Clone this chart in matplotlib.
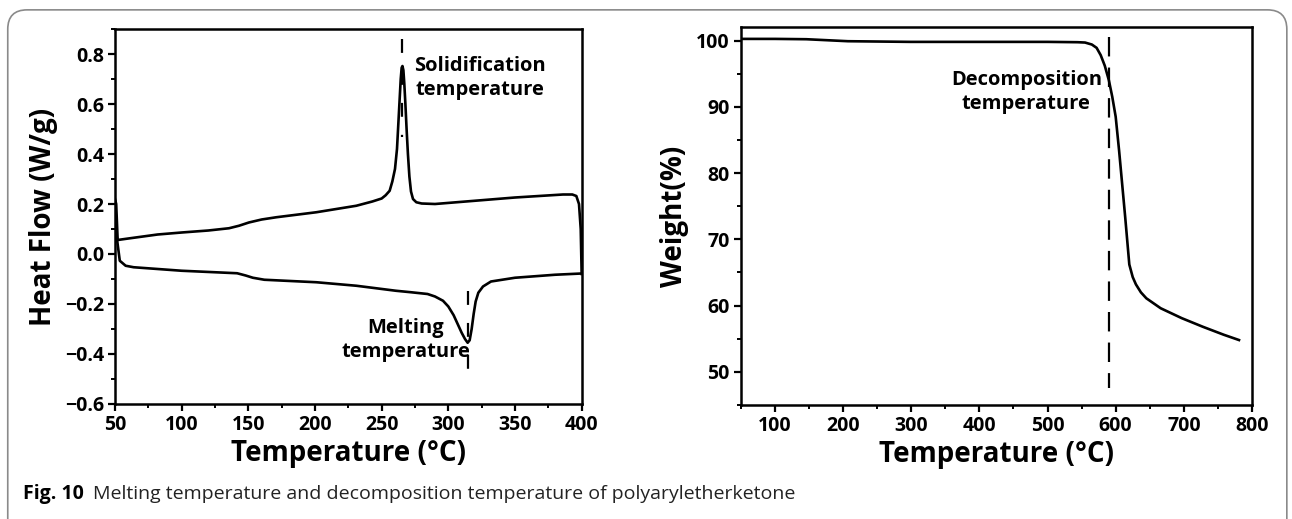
import matplotlib
matplotlib.use("Agg")
import matplotlib.pyplot as plt
from matplotlib.patches import FancyBboxPatch
from matplotlib.ticker import MultipleLocator

plt.rcParams['font.family'] = ['Open Sans', 'DejaVu Sans']
plt.rcParams['lines.scale_dashes'] = False

# DSC curves (temperature in °C, heat flow in W/g)
dsc_upper_t = [50, 50.9, 52, 60, 82, 100, 120, 135.5, 143, 150.4, 160, 171, 201, 231, 243, 250, 253,
               256, 258, 260, 261.5, 262.5, 263.5, 264.3, 265, 265.6, 266.3, 267, 267.8, 268.7, 269.7,
               270.8, 272, 273.5, 276, 280, 290, 320, 350, 386, 393, 396, 398, 399.3, 400]
dsc_upper_hf = [0.22, 0.2, 0.056, 0.062, 0.078, 0.086, 0.094, 0.103, 0.113, 0.126, 0.138, 0.147,
                0.167, 0.193, 0.21, 0.222, 0.235, 0.253, 0.29, 0.34, 0.42, 0.52, 0.62, 0.7, 0.745,
                0.752, 0.735, 0.68, 0.6, 0.5, 0.4, 0.31, 0.25, 0.22, 0.207, 0.202, 0.2, 0.213, 0.226,
                0.238, 0.238, 0.232, 0.2, 0.1, -0.08]
dsc_lower_t = [50, 51, 53.6, 58, 64, 100, 141.6, 148, 153.4, 162, 201, 231, 260.6, 272, 284.4, 290,
               296, 300, 304, 307, 310, 312.5, 314.5, 316, 317.5, 319, 320.5, 322.5, 326, 332, 350,
               380, 400]
dsc_lower_hf = [0.21, 0.08, -0.027, -0.047, -0.053, -0.067, -0.077, -0.086, -0.095, -0.103, -0.113,
                -0.127, -0.147, -0.153, -0.16, -0.17, -0.187, -0.21, -0.245, -0.28, -0.315, -0.34,
                -0.355, -0.345, -0.3, -0.24, -0.19, -0.155, -0.13, -0.11, -0.095, -0.083, -0.078]

# TGA curve (temperature in °C, weight in %)
tga_t = [50, 100, 146, 207, 299, 400, 500, 544, 555, 565, 572, 578, 584, 590, 595, 600, 605, 614,
         620, 625, 629.7, 637, 645, 666, 697, 728, 758.6, 781]
tga_w = [100.25, 100.25, 100.2, 99.9, 99.8, 99.8, 99.8, 99.75, 99.7, 99.4, 98.9, 97.8, 96.2, 94.0,
         91.5, 88.5, 83.4, 73.3, 66.2, 64.3, 63.2, 62.0, 61.1, 59.6, 58.1, 56.8, 55.6, 54.8]

solid_t = 265
melt_t = 315
decomp_t = 590

fig = plt.figure(figsize=(12.92, 5.19), dpi=100)

# rounded frame around the figure
frame = FancyBboxPatch((0.006, -0.05), 0.99, 1.031, boxstyle="round,pad=0,rounding_size=0.015",
                       transform=fig.transFigure, fill=False, edgecolor='#8a8a8a', linewidth=1.2,
                       mutation_aspect=1292 / 519)
fig.patches.append(frame)

ax1 = fig.add_axes([0.0890, 0.2216, 0.3612, 0.7225])
ax2 = fig.add_axes([0.5735, 0.2197, 0.3955, 0.7277])

lw = 1.9
for ax in (ax1, ax2):
    for s in ax.spines.values():
        s.set_linewidth(1.8)
    ax.tick_params(which='major', direction='out', length=5, width=1.6, labelsize=14, pad=3)
    ax.tick_params(which='minor', direction='out', length=3, width=1.4)

# left: DSC
ax1.plot(dsc_upper_t, dsc_upper_hf, color='black', lw=lw)
ax1.plot(dsc_lower_t, dsc_lower_hf, color='black', lw=lw)
ax1.plot([solid_t, solid_t], [0.86, 0.47], color='black', lw=1.6, linestyle=(0, (10, 13)))
ax1.plot([melt_t, melt_t], [-0.15, -0.53], color='black', lw=1.6, linestyle=(0, (10, 13)))
ax1.set_xlim(50, 400)
ax1.set_ylim(-0.6, 0.9)
ax1.set_xticks([50, 100, 150, 200, 250, 300, 350, 400])
ax1.set_xticklabels(['50', '100', '150', '200', '250', '300', '350', '400'], fontweight='bold')
ax1.xaxis.set_minor_locator(MultipleLocator(25))
ax1.set_yticks([-0.6, -0.4, -0.2, 0.0, 0.2, 0.4, 0.6, 0.8])
ax1.set_yticklabels(['\u22120.6', '\u22120.4', '\u22120.2', '0.0', '0.2', '0.4', '0.6', '0.8'],
                    fontweight='bold')
ax1.yaxis.set_minor_locator(MultipleLocator(0.1))
ax1.set_xlabel('Temperature (°C)', fontsize=20, fontweight='bold', labelpad=3)
ax1.set_ylabel('Heat Flow (W/g)', fontsize=20, fontweight='bold', labelpad=5)
ax1.text(324, 0.705, 'Solidification\ntemperature', ha='center', va='center', fontsize=14.5,
         fontweight='bold', linespacing=1.25)
ax1.text(268, -0.345, 'Melting\ntemperature', ha='center', va='center', fontsize=14.5,
         fontweight='bold', linespacing=1.25)

# right: TGA
ax2.plot(tga_t, tga_w, color='black', lw=lw)
ax2.plot([decomp_t, decomp_t], [100.6, 47.5], color='black', lw=1.6, linestyle=(0, (14, 8)))
ax2.set_xlim(50, 800)
ax2.set_ylim(45, 102)
ax2.set_xticks([100, 200, 300, 400, 500, 600, 700, 800])
ax2.set_xticklabels(['100', '200', '300', '400', '500', '600', '700', '800'], fontweight='bold')
ax2.xaxis.set_minor_locator(MultipleLocator(50))
ax2.set_yticks([50, 60, 70, 80, 90, 100])
ax2.set_yticklabels(['50', '60', '70', '80', '90', '100'], fontweight='bold')
ax2.yaxis.set_minor_locator(MultipleLocator(5))
ax2.set_xlabel('Temperature (°C)', fontsize=20, fontweight='bold', labelpad=3)
ax2.set_ylabel('Weight(%)', fontsize=20, fontweight='bold', labelpad=5)
ax2.text(469, 92.2, 'Decomposition\ntemperature', ha='center', va='center', fontsize=14.5,
         fontweight='bold', linespacing=1.25)

# caption
cap1 = fig.text(0.018, 0.048, 'Fig. 10', fontsize=14, fontweight='bold', va='center')
fig.canvas.draw()
bb = cap1.get_window_extent(renderer=fig.canvas.get_renderer())
x2 = (bb.x1 + 9) / fig.bbox.width
fig.text(x2, 0.048, 'Melting temperature and decomposition temperature of polyaryletherketone',
         fontsize=14, va='center', color='#222222')

fig.savefig('out.png', dpi=100)
